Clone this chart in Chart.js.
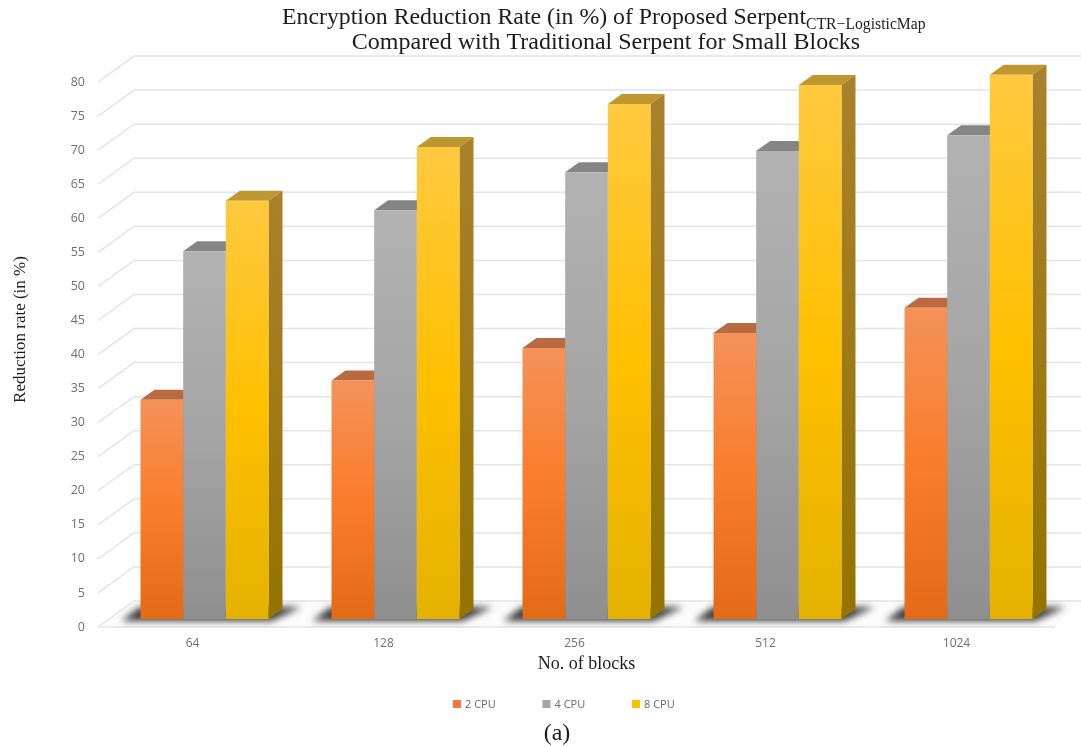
<!DOCTYPE html>
<html>
<head>
<meta charset="utf-8">
<style>html,body{margin:0;padding:0;background:#fff}canvas{display:block}</style>
<script src="https://cdn.jsdelivr.net/npm/chart.js@4"></script>
</head>
<body>
<canvas id="c" width="1081" height="747"></canvas>
<script>
// Block sizes and reduction rates per CPU count
const blockSizes = ['64', '128', '256', '512', '1024'];
const cpu2 = [32.2, 35, 39.8, 42, 45.7];
const cpu4 = [54, 60, 65.6, 68.7, 71];
const cpu8 = [61.4, 69.3, 75.6, 78.4, 79.9];
const seriesNames = ['2 CPU', '4 CPU', '8 CPU'];
const titleLine1 = 'Encryption Reduction Rate (in %) of Proposed Serpent';
const titleSub = 'CTR\u2212LogisticMap';
const titleLine2 = 'Compared with Traditional Serpent for Small Blocks';
const caption = '(a)';

// Colour ramps of each series: front face stops, top face, side face stops, legend swatch
const palette = [
  { front: ['#f49259', '#f97d2a', '#e56a18'], top: '#b96a40', side: ['#b0622f', '#8f4d16'], swatch: '#f0763a' },
  { front: ['#b2b2b2', '#a5a5a5', '#8f8f8f'], top: '#858585', side: ['#7c7c7c', '#6a6a6a'], swatch: '#a5a5a5' },
  { front: ['#ffc940', '#ffc000', '#e4b200'], top: '#bf9730', side: ['#a9812a', '#947300'], swatch: '#ffc000' }
];

const DEPTH_X = 14, DEPTH_Y = -10;           // bar depth projection
const GRID_FRONT = [-11, 8], GRID_BACK = [25, -18]; // wall and floor projection around the bar plane

function frontFill(i) {
  return ctx => {
    const y = ctx.chart.scales.y;
    const value = ctx.dataIndex === undefined ? NaN : ctx.dataset.data[ctx.dataIndex];
    const top = y ? y.getPixelForValue(value) : NaN, base = y ? y.getPixelForValue(0) : NaN;
    if (!Number.isFinite(top) || !Number.isFinite(base)) return palette[i].front[1];
    const g = ctx.chart.ctx.createLinearGradient(0, top, 0, base);
    g.addColorStop(0, palette[i].front[0]);
    g.addColorStop(0.5, palette[i].front[1]);
    g.addColorStop(1, palette[i].front[2]);
    return g;
  };
}

function poly(c, pts) {
  c.beginPath();
  pts.forEach((p, i) => i ? c.lineTo(p[0], p[1]) : c.moveTo(p[0], p[1]));
  c.closePath();
}

// Floor, wall gridlines, contact shadows and the top and side faces of the bars
const depthPlugin = {
  id: 'depth',
  beforeDatasetsDraw(chart) {
    const c = chart.ctx, y = chart.scales.y, area = chart.chartArea;
    const fx = area.left + GRID_FRONT[0], bx = area.left + GRID_BACK[0];
    const zero = y.getPixelForValue(0);
    c.save();
    poly(c, [[fx, zero + GRID_FRONT[1]], [bx, zero + GRID_BACK[1]], [chart.width, zero + GRID_BACK[1]], [1055, zero + GRID_FRONT[1]]]);
    c.fillStyle = '#fcfcfc';
    c.fill();
    c.strokeStyle = '#e4e4e4';
    c.lineWidth = 1.5;
    y.ticks.filter(t => t.value <= 80).forEach(t => {
      const p = y.getPixelForValue(t.value);
      c.beginPath();
      c.moveTo(fx, p + GRID_FRONT[1]);
      c.lineTo(bx, p + GRID_BACK[1]);
      c.lineTo(chart.width, p + GRID_BACK[1]);
      c.stroke();
    });
    c.beginPath();
    c.moveTo(fx, zero + GRID_FRONT[1]);
    c.lineTo(1055, zero + GRID_FRONT[1]);
    c.stroke();

    const metas = chart.data.datasets.map((_, i) => chart.getDatasetMeta(i));
    blockSizes.forEach((_, j) => {
      const first = metas[0].data[j], last = metas[metas.length - 1].data[j];
      const L = first.x - first.width / 2, R = last.x + last.width / 2;
      c.save();
      c.filter = 'blur(3.5px)';
      c.fillStyle = '#3c3c3c';
      poly(c, [[L - 19, zero + 2], [L - 1, zero - 12], [R + 33, zero - 12], [R + 3, zero + 2]]);
      c.fill();
      c.restore();
    });
    metas.forEach((meta, i) => {
      meta.data.forEach(bar => {
        const l = bar.x - bar.width / 2, r = bar.x + bar.width / 2;
        poly(c, [[l, bar.y], [l + DEPTH_X, bar.y + DEPTH_Y], [r + DEPTH_X, bar.y + DEPTH_Y], [r, bar.y]]);
        c.fillStyle = palette[i].top;
        c.fill();
        const g = c.createLinearGradient(0, bar.y, 0, bar.base);
        g.addColorStop(0, palette[i].side[0]);
        g.addColorStop(1, palette[i].side[1]);
        poly(c, [[r, bar.y], [r + DEPTH_X, bar.y + DEPTH_Y], [r + DEPTH_X, bar.base + DEPTH_Y], [r, bar.base]]);
        c.fillStyle = g;
        c.fill();
      });
    });
    c.restore();
  },
  // Heading with its subscript, the series key and the panel caption
  afterDraw(chart) {
    const c = chart.ctx;
    c.save();
    c.textBaseline = 'alphabetic';
    c.fillStyle = '#1c1c1c';
    c.textAlign = 'left';
    c.font = '23.8px "Liberation Serif"';
    c.fillText(titleLine1, 282, 24);
    const w = c.measureText(titleLine1).width;
    c.font = '15.7px "Liberation Serif"';
    c.fillText(titleSub, 282 + w, 29);
    c.textAlign = 'center';
    c.font = '24px "Liberation Serif"';
    c.fillText(titleLine2, 606, 49);
    c.font = '24px "Liberation Serif"';
    c.fillText(caption, 557, 740);

    c.textAlign = 'left';
    c.font = '11px "Open Sans"';
    seriesNames.forEach((name, i) => {
      const x = 453 + i * 89.5;
      c.fillStyle = palette[i].swatch;
      c.fillRect(x, 700, 8, 8);
      c.fillStyle = '#6a6a6a';
      c.fillText(name, x + 12, 708);
    });
    c.restore();
  }
};

new Chart(document.getElementById('c'), {
  type: 'bar',
  data: {
    labels: blockSizes,
    datasets: [cpu2, cpu4, cpu8].map((values, i) => ({
      label: seriesNames[i],
      data: values,
      backgroundColor: frontFill(i),
      borderWidth: 0,
      categoryPercentage: 0.67,
      barPercentage: 1
    }))
  },
  plugins: [depthPlugin],
  options: {
    responsive: false,
    animation: false,
    layout: { padding: { top: 40, left: 0, right: 17, bottom: 0 } },
    plugins: { legend: { display: false }, title: { display: false }, tooltip: { enabled: false } },
    scales: {
      x: {
        grid: { display: false, drawTicks: false },
        border: { display: false },
        afterFit: s => { s.height = 128; },
        ticks: { color: '#707070', font: { family: 'Open Sans', size: 12 }, padding: 17, labelOffset: -12, maxRotation: 0 },
        title: { display: true, text: 'No. of blocks', color: '#1c1c1c', font: { family: 'Liberation Serif', size: 18 }, padding: { top: 0, bottom: 72 } }
      },
      y: {
        min: 0,
        max: 85,
        grid: { display: false, drawTicks: false },
        border: { display: false },
        afterFit: s => { s.width = 109; },
        ticks: {
          stepSize: 5,
          autoSkip: false,
          color: '#707070',
          font: { family: 'Open Sans', size: 12.5 },
          padding: 24,
          labelOffset: 8,
          callback: v => (v <= 80 ? v : '')
        },
        title: { display: true, text: 'Reduction rate (in %)', color: '#1c1c1c', font: { family: 'Liberation Serif', size: 17 }, padding: { top: 10, bottom: 0 } }
      }
    }
  }
});
</script>
</body>
</html>
